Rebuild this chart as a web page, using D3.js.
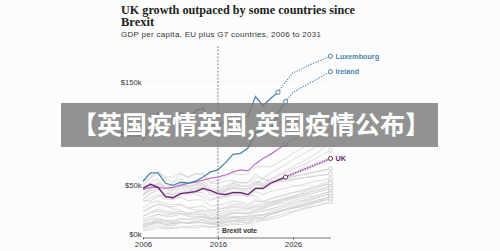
<!DOCTYPE html>
<html>
<head>
<meta charset="utf-8">
<script src="https://cdn.jsdelivr.net/npm/d3@7"></script>
<style>
  body { margin: 0; background: #fcfcfc; }
  svg { display: block; }
</style>
</head>
<body>
<div id="chart"></div>
<script>
const years = [2006, 2007, 2008, 2009, 2010, 2011, 2012, 2013, 2014, 2015, 2016, 2017, 2018,
  2019, 2020, 2021, 2022, 2023, 2024, 2025, 2026, 2027, 2028, 2029, 2030, 2031];

// highlighted countries, GDP per capita in $k
const luxembourg = [93, 110, 120, 108, 110, 121, 112, 122, 125, 107, 108, 112, 118, 114, 117, 136, 127, 134, 140, 150, 159, 162, 166, 169, 172, 175];
const ireland = [54, 62, 62, 52, 50, 53, 52, 54, 58, 63, 65, 72, 80, 81, 86, 101, 104, 104, 120, 131, 140, 144, 148, 152, 156, 160];
const usa = [46, 48, 48, 47, 48, 50, 52, 53, 55, 57, 58, 60, 63, 65, 64, 71, 76, 80, 85, 90, 94, 98, 102, 105, 109, 113];
const uk = [47, 51, 48, 39, 38, 42, 43, 44, 47, 45, 42, 41, 43, 43, 41, 47, 47, 52, 55, 58, 61, 64, 67, 70, 73, 76];

// first forecast year for each highlighted line
const forecastStart = { Luxembourg: 2024, Ireland: 2025, US: 2025, UK: 2025 };

// the other EU and G7 countries
const denmark = [52, 58, 64, 58, 58, 62, 58, 61, 62, 53, 55, 58, 62, 60, 61, 68, 68, 68, 72, 76, 81, 85, 90, 95, 99, 104];
const netherlands = [50, 57, 62, 57, 53, 56, 52, 54, 55, 46, 47, 49, 53, 53, 52, 58, 57, 62, 66, 70, 75, 79, 83, 87, 93, 99];
const austria = [42, 47, 52, 48, 47, 51, 49, 51, 52, 44, 45, 47, 52, 50, 49, 54, 52, 56, 60, 64, 68, 72, 76, 80, 86, 91];
const sweden = [47, 53, 56, 47, 53, 61, 58, 61, 60, 52, 52, 54, 55, 52, 53, 61, 56, 55, 59, 62, 66, 69, 72, 76, 80, 84];
const belgium = [41, 46, 51, 47, 45, 49, 46, 48, 48, 41, 42, 44, 48, 47, 46, 52, 50, 54, 55, 57, 59, 60, 62, 63, 65, 66];
const canada = [40, 45, 47, 41, 48, 52, 53, 53, 51, 44, 42, 45, 47, 46, 44, 52, 56, 53, 54, 56, 58, 60, 61, 63, 64, 66];
const germany = [36, 42, 46, 42, 42, 47, 44, 47, 48, 41, 42, 45, 48, 47, 47, 51, 49, 53, 54, 55, 56, 57, 58, 59, 60, 61];
const finland = [41, 48, 53, 47, 47, 51, 48, 50, 50, 43, 44, 46, 50, 49, 49, 54, 51, 52, 53, 54, 55, 57, 58, 59, 60, 61];
const france = [37, 42, 46, 42, 41, 44, 41, 43, 43, 37, 37, 39, 42, 41, 39, 44, 41, 44, 46, 47, 49, 50, 52, 54, 55, 57];
const malta = [17, 20, 22, 21, 22, 23, 23, 24, 26, 25, 26, 29, 32, 32, 30, 34, 34, 37, 39, 41, 43, 45, 47, 49, 52, 54];
const italy = [34, 38, 41, 37, 36, 39, 35, 36, 36, 30, 31, 32, 35, 34, 32, 36, 34, 37, 39, 41, 43, 44, 46, 48, 50, 52];
const cyprus = [24, 28, 32, 30, 29, 31, 28, 26, 26, 23, 24, 26, 29, 28, 28, 31, 32, 34, 36, 38, 40, 42, 45, 47, 50, 52];
const japan = [35, 35, 39, 41, 45, 49, 49, 41, 39, 35, 39, 39, 40, 41, 40, 40, 34, 34, 35, 37, 39, 41, 43, 45, 47, 49];
const spain = [28, 33, 35, 32, 31, 32, 28, 29, 30, 26, 27, 28, 30, 30, 27, 30, 30, 33, 35, 37, 39, 41, 43, 45, 47, 49];
const slovenia = [20, 24, 27, 25, 24, 25, 23, 24, 24, 21, 22, 24, 26, 26, 26, 29, 29, 32, 34, 36, 38, 39, 41, 43, 45, 47];
const czechia = [15, 18, 22, 20, 20, 22, 20, 20, 20, 18, 19, 21, 23, 24, 23, 26, 27, 31, 33, 35, 37, 39, 41, 43, 45, 47];
const estonia = [13, 17, 18, 15, 15, 17, 17, 19, 20, 17, 18, 20, 23, 23, 23, 27, 28, 30, 32, 33, 35, 37, 39, 40, 42, 44];
const portugal = [20, 23, 25, 23, 23, 23, 21, 22, 22, 19, 20, 22, 24, 23, 22, 25, 25, 27, 29, 31, 33, 35, 37, 39, 42, 44];
const lithuania = [9, 12, 14, 11, 11, 14, 14, 16, 17, 14, 15, 17, 19, 20, 20, 24, 25, 27, 29, 31, 33, 35, 36, 38, 40, 42];
const slovakia = [12, 14, 18, 16, 16, 18, 17, 18, 19, 16, 17, 18, 19, 19, 20, 21, 21, 25, 27, 29, 31, 33, 35, 37, 40, 42];
const latvia = [10, 13, 15, 12, 11, 14, 14, 15, 16, 14, 14, 16, 18, 18, 18, 21, 22, 23, 25, 27, 29, 31, 33, 35, 37, 39];
const greece = [25, 29, 32, 30, 27, 26, 22, 22, 22, 18, 18, 19, 20, 19, 18, 20, 21, 23, 25, 27, 29, 31, 33, 35, 37, 39];
const hungary = [12, 14, 16, 13, 13, 14, 13, 14, 14, 13, 13, 15, 16, 17, 16, 19, 18, 22, 24, 26, 28, 30, 32, 34, 36, 39];
const poland = [9, 11, 14, 12, 13, 14, 13, 14, 14, 13, 12, 14, 16, 16, 16, 18, 19, 22, 24, 26, 28, 29, 31, 33, 35, 37];
const croatia = [11, 13, 16, 15, 14, 15, 13, 14, 14, 12, 13, 14, 15, 15, 14, 18, 19, 22, 24, 26, 28, 29, 31, 33, 35, 37];
const romania = [7, 9, 11, 9, 9, 10, 10, 11, 11, 10, 11, 12, 13, 14, 14, 16, 17, 19, 21, 23, 25, 27, 29, 30, 32, 34];
const bulgaria = [6, 7, 9, 8, 8, 9, 9, 9, 10, 9, 10, 11, 12, 12, 13, 14, 16, 17, 19, 21, 24, 26, 28, 30, 32, 34];

const others = [denmark, netherlands, austria, sweden, belgium, canada, germany, finland, france,
  malta, italy, cyprus, japan, spain, slovenia, czechia, estonia, portugal, lithuania, slovakia,
  latvia, greece, hungary, poland, croatia, romania, bulgaria];

const yTicks = [0, 50, 100, 150];
const xTicks = [2006, 2016, 2026];
const brexitYear = 2016;

// the US label sits under the banner in the original, so it is left out
const highlights = [
  { name: "US", values: usa, color: "#bb72cb", label: "" },
  { name: "Luxembourg", values: luxembourg, color: "#4a84a9", label: "Luxembourg" },
  { name: "Ireland", values: ireland, color: "#4a84a9", label: "Ireland" },
  { name: "UK", values: uk, color: "#5e2a63", label: "UK" },
];

const width = 500;
const height = 251;

const svg = d3
  .select("#chart")
  .append("svg")
  .attr("width", width)
  .attr("height", height)
  .style("background", "#fcfcfc");

const x = d3.scaleLinear().domain([2006, 2031]).range([143, 330.5]);
const y = d3.scaleLinear().domain([0, 150]).range([237, 82]);

// title
svg.append("text")
  .attr("x", 121).attr("y", 13.5)
  .attr("font-family", "Liberation Serif, serif")
  .attr("font-weight", "bold")
  .attr("font-size", 12.5)
  .attr("fill", "#222")
  .attr("textLength", 234)
  .attr("lengthAdjust", "spacingAndGlyphs")
  .text("UK growth outpaced by some countries since");
svg.append("text")
  .attr("x", 121).attr("y", 26)
  .attr("font-family", "Liberation Serif, serif")
  .attr("font-weight", "bold")
  .attr("font-size", 12.5)
  .attr("fill", "#222")
  .text("Brexit");
svg.append("text")
  .attr("x", 121).attr("y", 37)
  .attr("font-family", "Liberation Sans, sans-serif")
  .attr("font-size", 8)
  .attr("fill", "#333")
  .attr("textLength", 200)
  .attr("lengthAdjust", "spacing")
  .text("GDP per capita, EU plus G7 countries, 2006 to 2031");

// gridlines
svg.append("g")
  .selectAll("line")
  .data(yTicks.filter((d) => d > 0))
  .enter()
  .append("line")
  .attr("x1", x(2006)).attr("x2", x(2031))
  .attr("y1", (d) => y(d)).attr("y2", (d) => y(d))
  .attr("stroke", "#ececec")
  .attr("stroke-width", 0.6);

const line = d3.line().x((d) => x(d[0])).y((d) => y(d[1]));
const pairs = (vals) => vals.map((v, i) => [years[i], v]);

// grey lines
svg.append("g")
  .selectAll("path")
  .data(others)
  .enter()
  .append("path")
  .attr("d", (d) => line(pairs(d)))
  .attr("fill", "none")
  .attr("stroke", "#d3d3d3")
  .attr("stroke-width", 0.8);

svg.append("g")
  .selectAll("circle")
  .data(others)
  .enter()
  .append("circle")
  .attr("cx", x(2031))
  .attr("cy", (d) => y(d[d.length - 1]))
  .attr("r", 1.9)
  .attr("fill", "#fcfcfc")
  .attr("stroke", "#c8c8c8")
  .attr("stroke-width", 0.7);

// brexit vote line
svg.append("line")
  .attr("x1", x(brexitYear)).attr("x2", x(brexitYear))
  .attr("y1", 46).attr("y2", y(0))
  .attr("stroke", "#555")
  .attr("stroke-width", 0.7)
  .attr("stroke-dasharray", "2,1.5");
svg.append("text")
  .attr("x", x(brexitYear) + 4).attr("y", 233)
  .attr("font-family", "Liberation Sans, sans-serif")
  .attr("font-weight", "bold")
  .attr("font-size", 6.8)
  .attr("fill", "#333")
  .text("Brexit vote");

// UK halo
svg.append("path")
  .attr("d", line(pairs(uk)))
  .attr("fill", "none")
  .attr("stroke", "#ecd3ee")
  .attr("stroke-width", 3);

// highlighted lines
highlights.forEach((h) => {
  const all = pairs(h.values);
  const fy = forecastStart[h.name];
  const actual = all.filter((d) => d[0] <= fy);
  const forecast = all.filter((d) => d[0] >= fy);

  svg.append("path")
    .attr("d", line(actual))
    .attr("fill", "none")
    .attr("stroke", h.color)
    .attr("stroke-width", 1.3);
  svg.append("path")
    .attr("d", line(forecast))
    .attr("fill", "none")
    .attr("stroke", h.color)
    .attr("stroke-width", 1.1)
    .attr("stroke-dasharray", "1.3,1.3");

  svg.selectAll(null)
    .data([forecast[0], forecast[forecast.length - 1]])
    .enter()
    .append("circle")
    .attr("cx", (d) => x(d[0]))
    .attr("cy", (d) => y(d[1]))
    .attr("r", 2.1)
    .attr("fill", "#fcfcfc")
    .attr("stroke", h.color)
    .attr("stroke-width", 1);

  if (h.label) {
    const last = all[all.length - 1];
    svg.append("text")
      .attr("x", x(last[0]) + 5)
      .attr("y", y(last[1]) + 2.6)
      .attr("font-family", "Liberation Sans, sans-serif")
      .attr("font-weight", "bold")
      .attr("font-size", 7.2)
      .attr("fill", h.color)
      .text(h.label);
  }
});

// axes
const xAxis = svg.append("g")
  .attr("transform", `translate(0,${y(0) + 0.5})`)
  .call(d3.axisBottom(x).tickValues(xTicks).tickFormat(d3.format("d")).tickSize(2).tickSizeOuter(0).tickPadding(1.5));
xAxis.select(".domain").attr("stroke", "#555").attr("stroke-width", 0.8);
xAxis.selectAll(".tick line").attr("stroke", "#555");
xAxis.selectAll("text")
  .attr("font-family", "Liberation Sans, sans-serif")
  .attr("font-size", 7.8)
  .attr("fill", "#333");

const yAxis = svg.append("g")
  .attr("transform", `translate(${x(2006)},0)`)
  .call(d3.axisLeft(y).tickValues(yTicks).tickFormat((d) => `$${d}k`).tickSize(0).tickPadding(1.5));
yAxis.select(".domain").remove();
yAxis.selectAll("text")
  .attr("font-family", "Liberation Sans, sans-serif")
  .attr("font-size", 7.6)
  .attr("fill", "#333")
  .attr("dy", (d) => (d === 0 ? "-0.05em" : "0.32em"));

// overlay banner
svg.append("rect")
  .attr("x", 61).attr("y", 103)
  .attr("width", 377).attr("height", 44)
  .attr("fill", "#7a7a7a")
  .attr("fill-opacity", 0.82);
svg.append("text")
  .attr("x", 251).attr("y", 134)
  .attr("text-anchor", "middle")
  .attr("font-family", "Noto Sans CJK SC, sans-serif")
  .attr("font-weight", "bold")
  .attr("font-size", 25)
  .attr("fill", "#fff")
  .text("【英国疫情英国,英国疫情公布】");
</script>
</body>
</html>
